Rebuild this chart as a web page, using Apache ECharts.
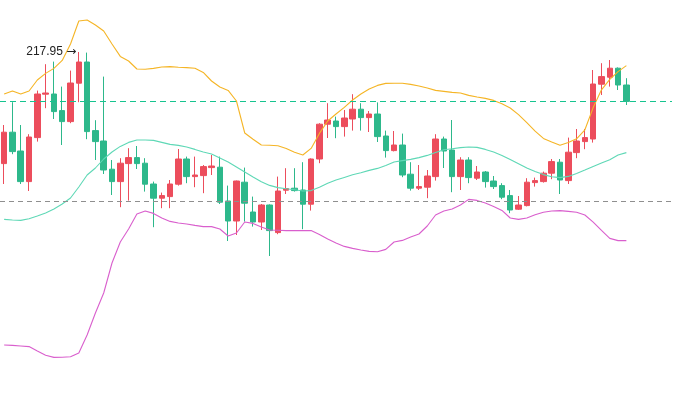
<!DOCTYPE html>
<html>
<head>
<meta charset="utf-8">
<script src="https://cdn.jsdelivr.net/npm/echarts@6/dist/echarts.min.js"></script>
<style>
html,body{margin:0;padding:0;background:#fff;}
#chart{width:674px;height:394px;}
</style>
</head>
<body>
<div id="chart"></div>
<script>
// OHLC values
const opens = [212.37,213.94,213.00,211.47,213.67,215.84,215.85,215.02,214.47,216.39,
217.45,214.02,213.50,212.09,211.47,212.37,212.67,212.39,211.35,210.64,
210.72,211.34,212.60,211.72,211.77,212.17,212.19,210.50,209.50,211.44,
209.95,209.45,210.30,208.92,211.04,211.14,211.05,210.34,212.60,214.34,
214.50,214.22,214.60,215.09,214.67,214.85,213.75,213.02,213.30,211.84,
211.14,211.19,211.72,213.60,213.05,211.72,212.55,211.64,211.95,211.50,
211.27,210.77,210.09,210.27,211.42,211.47,211.89,212.44,211.52,212.92,
213.47,213.60,216.34,216.69,217.14,216.30];
const closes = [213.94,212.97,211.47,213.70,215.85,215.90,214.97,214.47,216.40,217.45,
213.97,213.47,212.05,211.47,212.39,212.67,212.37,211.34,210.64,210.77,
211.35,212.60,211.72,211.80,212.22,212.25,210.44,209.50,211.50,210.39,
209.45,210.30,209.02,211.00,211.12,211.02,210.34,212.60,214.34,214.55,
214.22,214.65,215.09,214.67,214.85,213.72,213.02,213.30,211.80,211.14,
211.22,211.75,213.60,213.00,211.72,212.55,211.67,211.95,211.47,211.22,
210.69,210.05,210.30,211.44,211.52,211.89,212.47,211.55,212.94,213.50,
213.67,216.35,216.72,217.14,216.30,215.48];
const lows = [211.35,212.84,211.35,211.00,213.47,215.14,214.60,213.30,214.39,215.44,
213.59,212.55,211.85,210.80,210.19,210.52,212.10,210.97,209.19,210.14,
210.14,211.27,211.39,211.19,210.89,211.80,210.35,208.50,208.80,209.47,
209.22,209.05,207.75,208.84,210.85,210.97,209.09,210.02,212.39,213.65,
213.64,213.72,214.02,214.02,213.95,213.45,212.67,212.98,211.69,211.02,
211.05,210.64,211.52,212.15,210.94,211.05,211.39,211.55,211.17,211.10,
210.59,209.89,210.05,210.23,211.22,211.42,211.59,210.85,211.35,212.64,
213.09,213.42,215.80,216.22,216.05,215.30];
const highs = [214.30,215.44,214.30,213.84,216.02,217.34,217.47,216.22,217.02,217.95,
217.92,214.54,216.72,212.55,212.64,213.14,213.25,212.64,211.47,210.92,
211.55,213.10,212.72,212.72,212.30,212.80,212.72,211.27,211.52,212.17,
210.72,210.35,210.33,211.72,212.14,212.14,212.44,212.63,214.39,215.39,
214.72,215.05,215.84,215.39,215.00,215.43,214.02,214.00,213.87,212.44,
212.30,212.05,213.84,213.72,214.55,212.69,212.69,212.25,212.00,211.75,
211.39,211.05,210.75,211.64,211.67,211.97,212.60,212.60,213.67,214.10,
214.10,217.05,217.39,217.55,217.18,216.64];
// Bollinger band values
const upperBand = [215.85,216.00,215.85,216.00,216.55,216.88,217.13,217.53,218.35,219.50,
219.55,219.30,219.00,218.35,217.73,217.50,217.10,217.09,217.13,217.20,
217.22,217.19,217.17,217.14,216.93,216.50,216.20,216.03,215.50,213.90,
213.59,213.30,213.29,213.26,213.13,212.94,212.80,213.13,213.88,214.50,
214.85,215.18,215.55,215.85,216.10,216.28,216.38,216.39,216.39,216.33,
216.25,216.15,216.03,215.98,215.93,215.90,215.78,215.70,215.63,215.53,
215.36,215.15,214.82,214.42,213.99,213.63,213.45,213.29,213.42,213.61,
214.06,215.17,216.06,216.58,216.97,217.27];
const middleBand = [209.58,209.55,209.53,209.61,209.75,209.90,210.10,210.35,210.65,211.20,
211.80,212.15,212.60,212.95,213.23,213.43,213.55,213.55,213.53,213.43,
213.33,213.28,213.20,213.08,212.95,212.85,212.65,212.45,212.20,211.95,
211.70,211.46,211.28,211.17,211.11,211.06,211.00,211.02,211.19,211.39,
211.55,211.68,211.81,211.91,212.03,212.13,212.28,212.45,212.52,212.58,
212.67,212.78,212.93,213.06,213.11,213.17,213.20,213.18,213.08,212.95,
212.78,212.57,212.36,212.15,211.97,211.82,211.71,211.67,211.73,211.88,
212.05,212.23,212.40,212.56,212.80,212.92];
const lowerBand = [203.30,203.28,203.25,203.22,203.00,202.79,202.68,202.69,202.71,202.90,
203.80,204.90,205.90,207.40,208.45,209.10,209.85,210.00,209.88,209.65,
209.48,209.40,209.35,209.28,209.22,209.22,209.10,208.75,208.90,209.45,
209.38,209.20,209.05,209.04,209.02,209.02,209.02,209.02,208.83,208.60,
208.40,208.23,208.13,208.05,207.98,207.96,208.08,208.45,208.53,208.70,
208.85,209.25,209.80,210.00,210.10,210.30,210.58,210.53,210.40,210.23,
210.03,209.65,209.58,209.65,209.81,209.94,210.00,210.02,209.98,209.94,
209.80,209.44,209.03,208.63,208.52,208.52];
const referenceLine = 210.50;
const totalSlots = 81; // visible category slots (trailing ones empty)
const categories = Array.from({length: totalSlots}, (_, i) => 'D' + (i + 1));

const candleData = opens.map((o, i) => [o, closes[i], lows[i], highs[i]]);
const lastClose = closes[closes.length - 1];

const chart = echarts.init(document.getElementById('chart'), null, {renderer: 'canvas'});
chart.setOption({
  animation: false,
  backgroundColor: '#ffffff',
  grid: {left: -1, right: 2, top: 0, bottom: 0, containLabel: false},
  xAxis: {type: 'category', data: categories, boundaryGap: true, show: false},
  yAxis: {type: 'value', min: 200.85, max: 220.55, show: false, splitLine: {show: false}},
  series: [
    {
      type: 'candlestick',
      data: candleData,
      barWidth: 6,
      itemStyle: {color: '#ec4d5c', color0: '#2db88b', borderColor: '#ec4d5c', borderColor0: '#2db88b', borderWidth: 1},
      markPoint: {
        symbol: 'circle', symbolSize: 1,
        itemStyle: {color: 'rgba(0,0,0,0)'},
        label: {
          show: true, position: 'left', distance: 2,
          formatter: '{v|{c}} {a|→}',
          rich: {
            v: {color: '#222', fontSize: 12, fontFamily: 'Liberation Sans, Arial, sans-serif'},
            a: {color: '#222', fontSize: 12, fontFamily: 'DejaVu Sans'}
          }
        },
        data: [{type: 'max', valueDim: 'highest'}]
      }
    },
    {
      type: 'line', data: upperBand, showSymbol: false, lineStyle: {color: '#f5b526', width: 1.1}, z: 3,
      markLine: {
        silent: true, symbol: ['none', 'none'], label: {show: false},
        lineStyle: {color: '#8f8f8f', type: [5, 4], width: 1},
        data: [{yAxis: referenceLine}]
      }
    },
    {
      type: 'line', data: middleBand, showSymbol: false, lineStyle: {color: '#5fd8b6', width: 1.1}, z: 3,
      markLine: {
        silent: true, symbol: ['none', 'none'], label: {show: false},
        lineStyle: {color: '#16c48f', type: [6, 4], width: 1.2, opacity: 1},
        emphasis: {disabled: true},
        data: [{yAxis: lastClose}]
      }
    },
    {type: 'line', data: lowerBand, showSymbol: false, lineStyle: {color: '#d95fcd', width: 1.1}, z: 3}
  ]
});
</script>
</body>
</html>
